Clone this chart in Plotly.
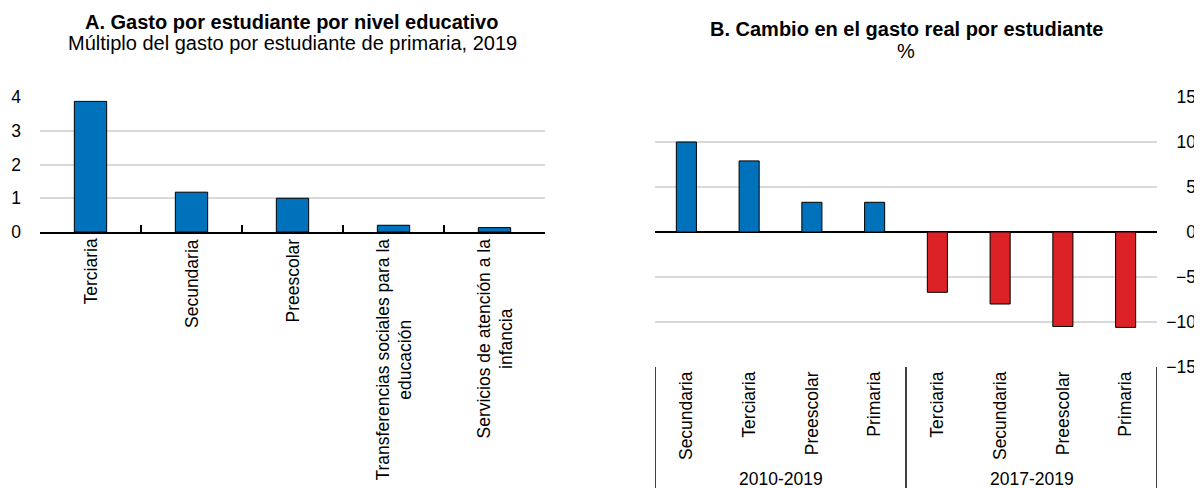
import plotly.graph_objects as go

# Panel A data
cats_a = ["Terciaria", "Secundaria", "Preescolar",
          "Transferencias sociales para la<br>educación",
          "Servicios de atención a la<br>infancia"]
vals_a = [3.87, 1.18, 1.0, 0.2, 0.13]

# Panel B data
periods_b = ["2010-2019"] * 4 + ["2017-2019"] * 4
cats_b = ["Secundaria", "Terciaria", "Preescolar", "Primaria",
          "Terciaria", "Secundaria", "Preescolar", "Primaria"]
vals_b = [10.0, 7.9, 3.3, 3.3, -6.7, -8.0, -10.5, -10.6]

BLUE = "#0072BC"
RED = "#DC2127"
GRID = "#D9D9D9"
FONT = "Liberation Sans, Arial, sans-serif"
TICK = 17.5
TITLE = 20

OFF = 8            # page body margin
W, H = 1202 - OFF, 488 - OFF

def px_x(p):
    return (p - OFF) / W

def px_y(p):
    return 1 - (p - OFF) / H

fig = go.Figure()

fig.add_trace(go.Bar(
    x=cats_a, y=vals_a, xaxis="x", yaxis="y",
    marker=dict(color=BLUE, line=dict(color="black", width=1)),
    width=0.32, showlegend=False,
))

# Panel B: one slot per bar, grouped by period
pos_b = list(range(len(vals_b)))
colors_b = [BLUE if p == periods_b[0] else RED for p in periods_b]
fig.add_trace(go.Bar(
    x=pos_b, y=vals_b, xaxis="x2", yaxis="y2",
    marker=dict(color=colors_b, line=dict(color="black", width=1)),
    width=0.32, showlegend=False,
))

fig.update_layout(
    width=W, height=H,
    margin=dict(l=0, r=0, t=0, b=0),
    paper_bgcolor="white", plot_bgcolor="white",
    font=dict(family=FONT, size=TICK, color="black"),
    xaxis=dict(
        domain=[px_x(40), px_x(545)], type="category",
        tickson="boundaries", ticks="inside", ticklen=7, tickcolor="black", tickwidth=1.5,
        showline=True, linecolor="black", linewidth=1.5,
        showticklabels=False, showgrid=False, automargin=False, anchor="y",
    ),
    yaxis=dict(
        domain=[px_y(232), px_y(97)], range=[0, 4], dtick=1,
        showgrid=True, gridcolor=GRID, gridwidth=1.5, zeroline=False,
        ticks="", ticklabelstandoff=18, automargin=False, anchor="x",
    ),
    xaxis2=dict(
        domain=[px_x(655), px_x(1157)], range=[-0.5, len(vals_b) - 0.5],
        tickmode="array", tickvals=pos_b, ticktext=cats_b, tickangle=-90,
        showline=False, showgrid=False, zeroline=False, ticks="",
        automargin=False, anchor="y2",
    ),
    yaxis2=dict(
        domain=[px_y(367), px_y(97)], range=[-15, 15], dtick=5,
        side="left", anchor="free", position=px_x(1196),
        showgrid=True, gridcolor=GRID, gridwidth=1.5,
        zeroline=True, zerolinecolor="black", zerolinewidth=1.5,
        ticks="", automargin=False,
    ),
)

# Panel A category labels (rotated, lines centred on each other)
for c in cats_a:
    fig.add_annotation(xref="x", yref="paper", x=c, y=px_y(237),
                       text=c, textangle=-90, showarrow=False,
                       xanchor="center", yanchor="top", align="center",
                       font=dict(family=FONT, size=TICK, color="black"))

# Panel B period groups: dividers at group boundaries and centred labels
groups = []
for i, p in enumerate(periods_b):
    if not groups or groups[-1][0] != p:
        groups.append([p, i, i])
    else:
        groups[-1][2] = i
bounds = sorted({g[1] - 0.5 for g in groups} | {g[2] + 0.5 for g in groups})
for b in bounds:
    fig.add_shape(type="line", xref="x2", yref="paper", x0=b, x1=b,
                  y0=0, y1=px_y(367), line=dict(color="black", width=1.5))
for p, i0, i1 in groups:
    fig.add_annotation(xref="x2", yref="paper", x=(i0 + i1) / 2, y=px_y(479),
                       text=p, showarrow=False, xanchor="center", yanchor="middle",
                       font=dict(family=FONT, size=TICK, color="black"))

titles = [
    dict(text="<b>A. Gasto por estudiante por nivel educativo</b>", x=px_x(291), y=px_y(22)),
    dict(text="Múltiplo del gasto por estudiante de primaria, 2019", x=px_x(292), y=px_y(43)),
    dict(text="<b>B. Cambio en el gasto real por estudiante</b>", x=px_x(906), y=px_y(29)),
    dict(text="%", x=px_x(906), y=px_y(51)),
]
for a in titles:
    fig.add_annotation(xref="paper", yref="paper", showarrow=False,
                       xanchor="center", yanchor="middle",
                       font=dict(family=FONT, size=TITLE, color="black"), **a)

fig.write_html("out.html")
